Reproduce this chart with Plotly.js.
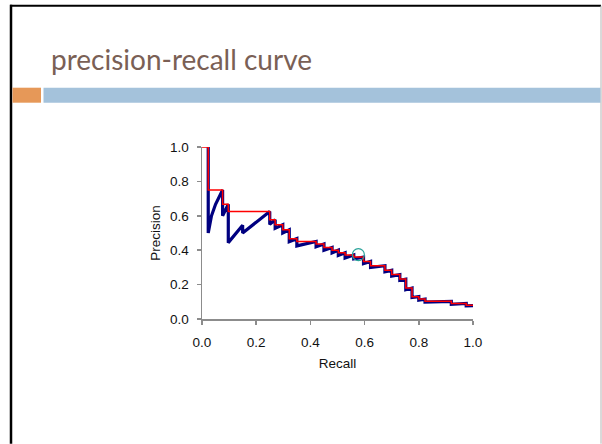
<!DOCTYPE html>
<html><head><meta charset="utf-8">
<script src="https://cdn.plot.ly/plotly-3.0.1.min.js"></script>
<style>html,body{margin:0;padding:0;background:#fff;overflow:hidden;}</style>
</head><body><div id="chart" style="width:602px;height:444px;"></div>
<script>
// Interpolated precision (red step line): recall at which the level changes, new level
const interpRecall    = [0.0, 0.023, 0.076, 0.097, 0.25, 0.27, 0.298, 0.322, 0.35, 0.421, 0.45, 0.48, 0.503, 0.528, 0.56, 0.596, 0.622, 0.675, 0.70, 0.73, 0.752, 0.775, 0.80, 0.823, 0.92, 0.975, 1.0];
const interpPrecision = [1.0, 0.75, 0.667, 0.625, 0.577, 0.548, 0.519, 0.467, 0.451, 0.436, 0.416, 0.40, 0.385, 0.372, 0.36, 0.335, 0.31, 0.283, 0.258, 0.232, 0.18, 0.13, 0.116, 0.103, 0.09, 0.08, 0.078];
// Raw precision (navy sawtooth line)
const rawRecall    = [0.023, 0.023, 0.035, 0.05, 0.076, 0.076, 0.097, 0.097, 0.15, 0.15, 0.25, 0.25, 0.27, 0.27, 0.298, 0.298, 0.322, 0.322, 0.35, 0.35, 0.421, 0.421, 0.45, 0.45, 0.48, 0.48, 0.503, 0.503, 0.528, 0.528, 0.56, 0.56, 0.596, 0.596, 0.622, 0.622, 0.675, 0.675, 0.70, 0.70, 0.73, 0.73, 0.752, 0.752, 0.775, 0.775, 0.80, 0.80, 0.823, 0.823, 0.92, 0.92, 0.975, 0.975, 1.0];
const rawPrecision = [1.0, 0.5, 0.6, 0.667, 0.75, 0.6, 0.667, 0.444, 0.545, 0.5, 0.625, 0.55, 0.577, 0.528, 0.548, 0.5, 0.519, 0.45, 0.467, 0.425, 0.451, 0.42, 0.436, 0.40, 0.416, 0.385, 0.40, 0.37, 0.385, 0.355, 0.372, 0.35, 0.36, 0.322, 0.335, 0.30, 0.31, 0.275, 0.283, 0.25, 0.258, 0.225, 0.232, 0.17, 0.18, 0.125, 0.13, 0.11, 0.116, 0.098, 0.103, 0.085, 0.09, 0.076, 0.078];
// Highlighted point (circle)
const markedRecall = [0.577];
const markedPrecision = [0.374];
const tickValues = [0, 0.2, 0.4, 0.6, 0.8, 1.0];
const tickLabels = ['0.0', '0.2', '0.4', '0.6', '0.8', '1.0'];

const L = 202, R = 473, T = 147.3, B = 319.3;
const px = x => (x - L) / (R - L);
const py = y => (B - y) / (B - T);

const traces = [
  {x: rawRecall, y: rawPrecision, type: 'scatter', mode: 'lines',
   line: {color: '#000080', width: 3.2}, cliponaxis: false, hoverinfo: 'skip'},
  {x: interpRecall, y: interpPrecision, type: 'scatter', mode: 'lines',
   line: {color: '#ff0000', width: 1.5, shape: 'hv'}, cliponaxis: false, hoverinfo: 'skip'},
  {x: markedRecall, y: markedPrecision, type: 'scatter', mode: 'markers',
   marker: {symbol: 'circle-open', size: 12, color: '#2aa39a', line: {width: 1.2, color: '#2aa39a'}},
   cliponaxis: false, hoverinfo: 'skip'}
];

const tickFont = {family: 'Liberation Sans, Arial, sans-serif', size: 13.5, color: '#111'};
const axisCommon = {
  range: [0, 1], tickvals: tickValues, ticktext: tickLabels,
  showgrid: false, zeroline: false, showline: true, linecolor: '#8c8c8c', linewidth: 1.5,
  ticks: 'outside', ticklen: 4, tickcolor: '#8c8c8c', tickwidth: 1.5,
  tickfont: tickFont, fixedrange: true
};

const layout = {
  width: 602, height: 444,
  margin: {l: L, r: 602 - R, t: T, b: 444 - B},
  paper_bgcolor: '#fff', plot_bgcolor: '#fff',
  showlegend: false,
  xaxis: Object.assign({}, axisCommon, {
    ticklabelstandoff: 6,
    title: {text: 'Recall', font: {family: 'Liberation Sans, Arial, sans-serif', size: 13.5, color: '#111'}, standoff: 10}
  }),
  yaxis: Object.assign({}, axisCommon, {
    ticklabelstandoff: 5,
    title: {text: 'Precision', font: {family: 'Liberation Sans, Arial, sans-serif', size: 13.5, color: '#111'}, standoff: 6}
  }),
  shapes: [
    {type: 'line', xref: 'paper', yref: 'paper', x0: px(10), x1: px(601), y0: py(6), y1: py(6), line: {color: '#000', width: 2}},
    {type: 'line', xref: 'paper', yref: 'paper', x0: px(11), x1: px(11), y0: py(5), y1: py(444), line: {color: '#000', width: 2.5}},
    {type: 'line', xref: 'paper', yref: 'paper', x0: px(601), x1: px(601), y0: py(6), y1: py(444), line: {color: '#b4b4b4', width: 1}},
    {type: 'rect', xref: 'paper', yref: 'paper', x0: px(12.5), x1: px(41), y0: py(88), y1: py(103), fillcolor: '#e69858', line: {width: 0}},
    {type: 'rect', xref: 'paper', yref: 'paper', x0: px(43.5), x1: px(600.5), y0: py(88), y1: py(103), fillcolor: '#a4c2db', line: {width: 0}}
  ],
  annotations: [
    {text: 'precision-recall curve', xref: 'paper', yref: 'paper', x: px(49), y: py(59),
     xanchor: 'left', yanchor: 'middle', showarrow: false,
     font: {family: 'Lato, Open Sans, sans-serif', size: 28, color: '#7a6055'}}
  ]
};

Plotly.newPlot('chart', traces, layout, {displayModeBar: false, staticPlot: true});
</script>
</body></html>
